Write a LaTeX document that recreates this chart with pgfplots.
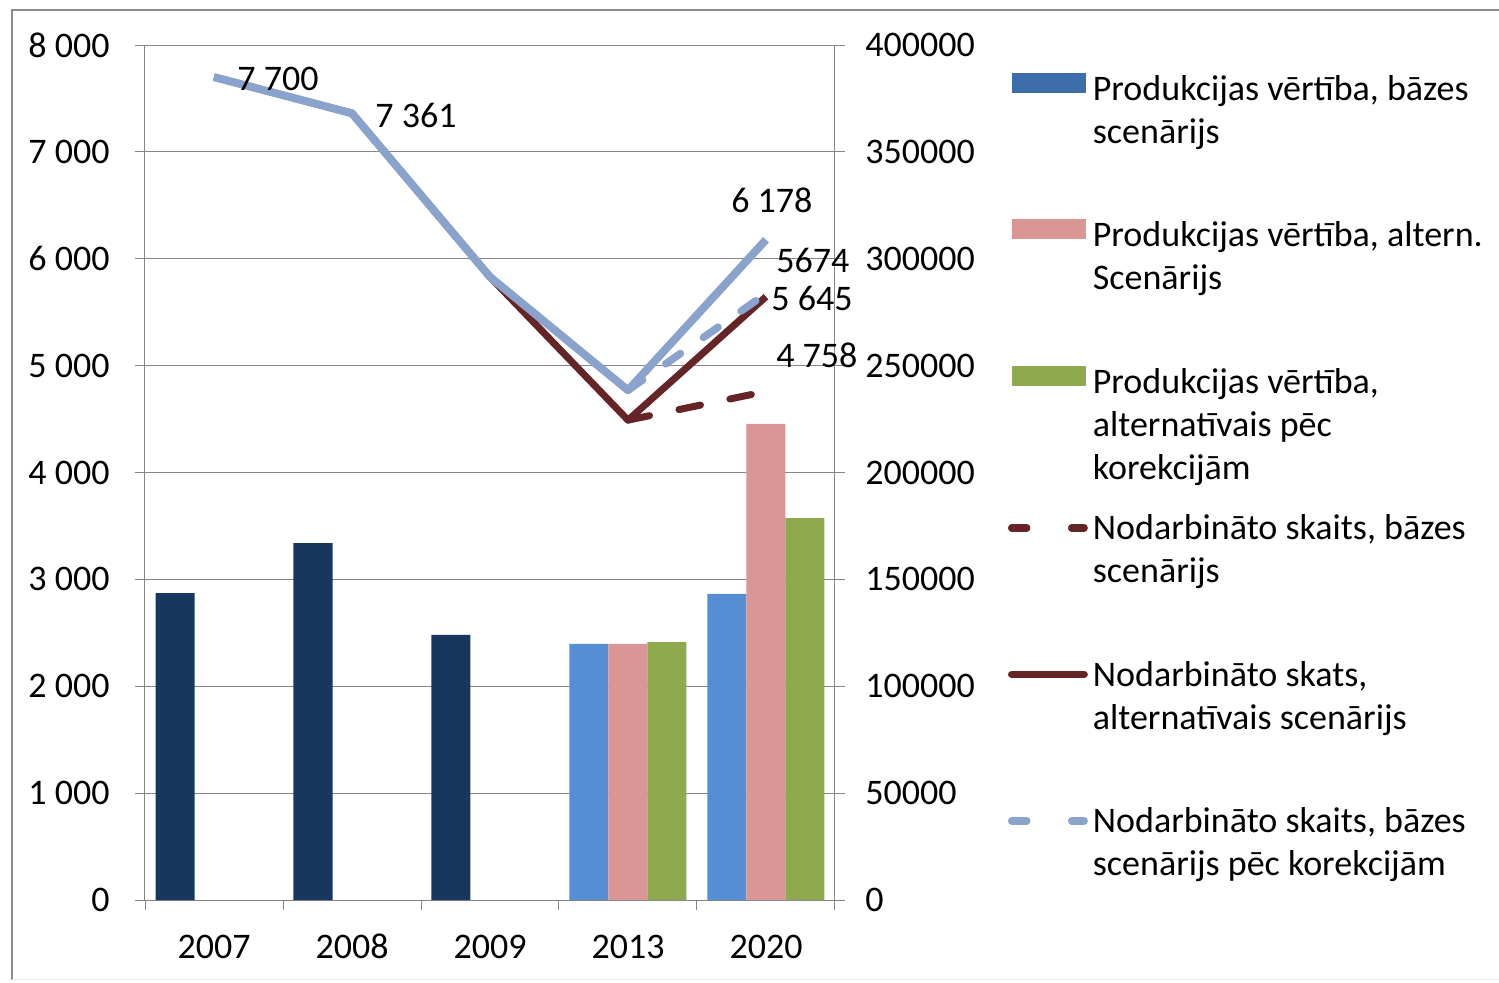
\documentclass[border=0pt]{standalone}
\usepackage{pgfplots}
\pgfplotsset{compat=1.18}
\usepackage{fontspec}
\setmainfont{Carlito}
\definecolor{navy}{HTML}{17375E}
\definecolor{barblue}{HTML}{558ED5}
\definecolor{legblue}{HTML}{3D6DAA}
\definecolor{barpink}{HTML}{D99694}
\definecolor{bargreen}{HTML}{8FA94F}
\definecolor{darkred}{HTML}{652426}
\definecolor{lightline}{HTML}{8AA3CC}
\definecolor{gridgray}{HTML}{868686}
\definecolor{framegray}{HTML}{8C8C8C}

\pgfplotsset{
  base/.style={
    at={(72.5pt,41pt)}, anchor=south west,
    scale only axis, width=345pt, height=427.5pt,
    xmin=-0.5, xmax=4.5,
    axis line style={gridgray, line width=0.5pt},
    tick style={gridgray, line width=0.5pt},
    major tick length=5pt,
    tick align=outside,
    /pgf/number format/assume math mode=true,
  },
}

\begin{document}
\fontsize{18pt}{21.5pt}\selectfont
\begin{tikzpicture}
\path[use as bounding box] (0,0) rectangle (749.5pt,491pt);
\draw[framegray, line width=0.8pt] (6pt,1pt) -- (6pt,486pt) -- (749.5pt,486pt);
\draw[black!8, line width=0.5pt] (6pt,1.5pt) -- (749.5pt,1.5pt);

% bars: production value (right axis)
\begin{axis}[base,
  axis x line*=bottom, axis y line*=right,
  ymin=0, ymax=400000,
  ytick={0,50000,100000,150000,200000,250000,300000,350000,400000},
  yticklabels={0,50000,100000,150000,200000,250000,300000,350000,400000},
  yticklabel style={xshift=4pt},
  scaled y ticks=false,
  ymajorgrids, grid style={gridgray, line width=0.5pt},
  xtick={-0.5,0.5,1.5,2.5,3.5,4.5},
  x tick label as interval,
  xticklabels={2007,2008,2009,2013,2020},
  xticklabel style={text height=12pt, text depth=0pt, yshift=-6pt},
]
\addplot[ybar, bar width=19.5pt, bar shift=-19.5pt, fill=navy, draw=none, forget plot]
  coordinates {(0,143600) (1,167000) (2,124000)};
\addplot[ybar, bar width=19.5pt, bar shift=-19.5pt, fill=barblue, draw=none, forget plot]
  coordinates {(3,119800) (4,143200)};
\addplot[ybar, bar width=19.5pt, bar shift=0pt, fill=barpink, draw=none, forget plot]
  coordinates {(3,119800) (4,222700)};
\addplot[ybar, bar width=19.5pt, bar shift=19.5pt, fill=bargreen, draw=none, forget plot]
  coordinates {(3,120700) (4,178700)};
\end{axis}

% lines: employment (left axis)
\begin{axis}[base,
  axis y line*=left, axis x line=none,
  ymin=0, ymax=8000,
  ytick={0,1000,2000,3000,4000,5000,6000,7000,8000},
  yticklabels={0,1 000,2 000,3 000,4 000,5 000,6 000,7 000,8 000},
  yticklabel style={xshift=-6.5pt},
  clip=false,
  legend style={at={(1.2507,0.9680)}, anchor=north west, draw=none, fill=none,
    inner sep=0pt, outer sep=0pt, row sep=9.25pt, column sep=2.5pt,
    cells={anchor=base west},
    nodes={inner sep=0pt, outer sep=0pt, text height=14pt, text depth=50pt, anchor=base west}},
]
\addplot[darkred, line width=3.5pt, line cap=round, dash pattern=on 11pt off 15pt, forget plot]
  coordinates {(3,4490) (4,4758)};
\addplot[darkred, line width=3.5pt, line join=round, forget plot]
  coordinates {(0,7700) (1,7361) (2,5830) (3,4490) (4,5645)};
\addplot[lightline, line width=3.75pt, line cap=round, dash pattern=on 9pt off 14pt, forget plot]
  coordinates {(3,4770) (4,5674)};
\addplot[lightline, line width=4pt, line join=round, forget plot]
  coordinates {(0,7700) (1,7361) (2,5830) (3,4770) (4,6178)};

\node[anchor=west, inner sep=0pt] at (axis cs:0.167,7682) {7 700};
\node[anchor=west, inner sep=0pt] at (axis cs:1.167,7345) {7 361};
\node[anchor=west, inner sep=0pt] at (axis cs:3.746,6550) {6 178};
\node[anchor=west, inner sep=0pt] at (axis cs:4.072,5988) {5674};
\node[anchor=west, inner sep=0pt] at (axis cs:4.036,5633) {5 645};
\node[anchor=west, inner sep=0pt] at (axis cs:4.072,5099) {4 758};

\addlegendimage{legend image code/.code={\fill[legblue] (2pt,4pt) rectangle (38.5pt,13.5pt);}}
\addlegendentry{\parbox[t]{240pt}{Produkcijas vērtība, bāzes\\scenārijs}}
\addlegendimage{legend image code/.code={\fill[barpink] (2pt,4pt) rectangle (38.5pt,13.5pt);}}
\addlegendentry{\parbox[t]{240pt}{Produkcijas vērtība, altern.\\Scenārijs}}
\addlegendimage{legend image code/.code={\fill[bargreen] (2pt,4pt) rectangle (38.5pt,13.5pt);}}
\addlegendentry{\parbox[t]{240pt}{Produkcijas vērtība,\\alternatīvais pēc\\korekcijām}}
\addlegendimage{legend image code/.code={\draw[darkred, line width=3.75pt, line cap=round, dash pattern=on 7.5pt off 22.5pt] (1.9pt,6pt) -- (38.1pt,6pt);}}
\addlegendentry{\parbox[t]{240pt}{Nodarbināto skaits, bāzes\\scenārijs}}
\addlegendimage{legend image code/.code={\draw[darkred, line width=3.75pt, line cap=round] (1.9pt,6pt) -- (38.1pt,6pt);}}
\addlegendentry{\parbox[t]{240pt}{Nodarbināto skats,\\alternatīvais scenārijs}}
\addlegendimage{legend image code/.code={\draw[lightline, line width=3.75pt, line cap=round, dash pattern=on 7.5pt off 22.5pt] (1.9pt,6pt) -- (38.1pt,6pt);}}
\addlegendentry{\parbox[t]{240pt}{Nodarbināto skaits, bāzes\\scenārijs pēc korekcijām}}
\end{axis}
\end{tikzpicture}
\end{document}
